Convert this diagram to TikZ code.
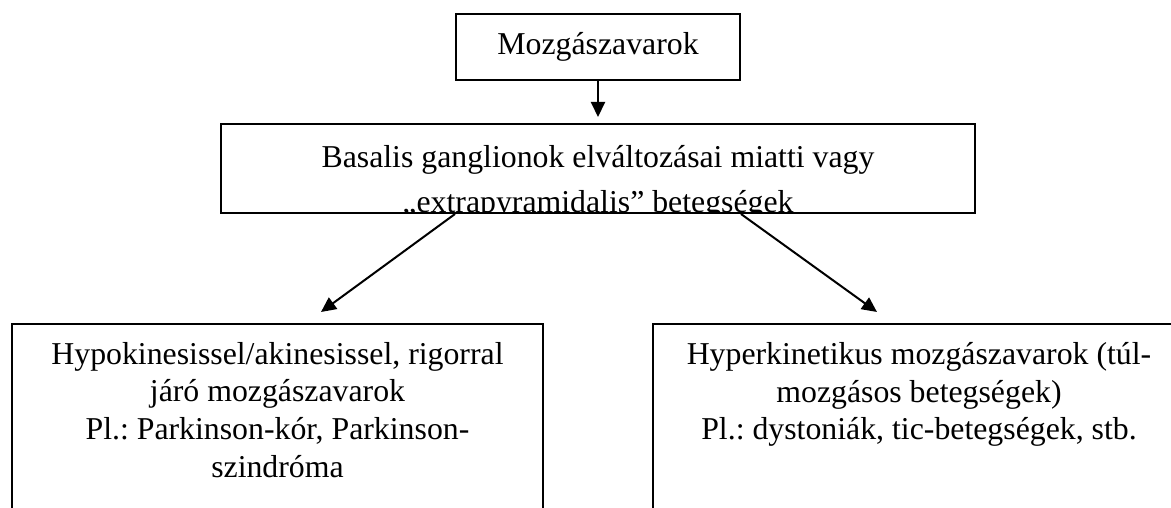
\documentclass[tikz,border=0pt]{standalone}
\usepackage{fontspec}
\setmainfont{Liberation Serif}
\usetikzlibrary{arrows.meta}
\frenchspacing

\begin{document}
\begin{tikzpicture}[x=1pt,y=-1pt,
    every node/.style={font=\fontsize{31.8}{37.7}\selectfont},
    box/.style={draw,line width=2pt,inner sep=0pt},
    txt/.style={align=center,inner sep=0pt,anchor=north},
    arr/.style={-{Triangle[length=15pt,width=14pt]},line width=2pt}]
  \clip (0,0) rectangle (1171,508);
  \node[box,minimum width=284pt,minimum height=66pt](mozg) at (598,47){Mozgászavarok};
  \node[box,minimum width=754pt,minimum height=89pt,
    path picture={\node[txt,font=\fontsize{31.8}{45}\selectfont]
      at ([yshift=-13pt]path picture bounding box.north)
      {Basalis ganglionok elváltozásai miatti vagy\\„extrapyramidalis” betegségek};}]
    (basal) at (598,168.5){};
  \node[box,minimum width=531pt,minimum height=240pt,anchor=north west](hypo) at (11,323){};
  \node[txt](hypot) at ([yshift=-19pt]hypo.north)
    {Hypokinesissel/akinesissel, rigorral\\járó mozgászavarok\\Pl.: Parkinson-kór, Parkinson-\\szindróma};
  \node[box,minimum width=532pt,minimum height=240pt,anchor=north west](hyper) at (652,323){};
  \node[txt](hypert) at ([yshift=-19pt]hyper.north)
    {Hyperkinetikus mozgászavarok (túl-\\mozgásos betegségek)\\Pl.: dystoniák, tic-betegségek, stb.};
  % arrows
  \draw[arr,shorten >=6pt] (mozg) -- (basal);
  \draw[arr] ([xshift=-143pt]basal.south) -- ([xshift=43.5pt,yshift=11pt]hypo.north);
  \draw[arr] ([xshift=143pt]basal.south) -- ([xshift=-42pt,yshift=11pt]hyper.north);
\end{tikzpicture}
\end{document}
